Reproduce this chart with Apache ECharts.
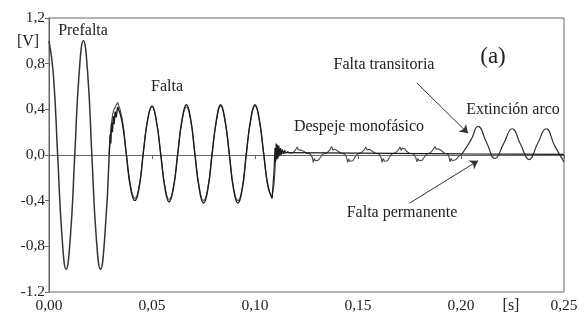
<!DOCTYPE html>
<html lang="es">
<head>
    <meta charset="UTF-8">
    <title>Tensión de fase - recierre monofásico</title>
    <style>
        *{
            margin: 0;
            padding: 0;
        }
        html, body{
            height: 100%;
            width: 100%;
            background: #fff;
        }
        #grafico{
            width: 586px;
            height: 319px;
        }
    </style>
</head>
<body>
<div id="grafico"></div>
<script src="https://cdn.jsdelivr.net/npm/echarts@6/dist/echarts.min.js"></script>
<script>
    // etiquetas de los ejes, tal como aparecen en la figura
    var xTickLabels = ['0,00', '0,05', '0,10', '0,15', '0,20', '0,25'];
    var yTickLabels = ['-1.2', '-0,8', '-0,4', '0,0', '0,4', '0,8', '1,2'];

    // [tiempo (s), tensión (V)]
    var prefalta = [
        [0, 1.0], [0.0021, 0.71], [0.0042, 0.0], [0.0063, -0.71], [0.0083, -1.0],
        [0.0104, -0.71], [0.0125, 0.0], [0.0146, 0.71], [0.0167, 1.0], [0.0188, 0.71],
        [0.0208, 0.0], [0.0229, -0.71], [0.025, -1.0], [0.0271, -0.71], [0.0292, 0.0]
    ];

    var permInicio = [
        [0.0292, 0.0], [0.0297, 0.18], [0.0300, 0.10], [0.0304, 0.28], [0.0308, 0.20],
        [0.0312, 0.34], [0.0316, 0.27], [0.0321, 0.38], [0.0326, 0.33], [0.0333, 0.42]
    ];
    var permFalta = [
        [0.0333, 0.42], [0.0354, 0.30], [0.0375, 0.01], [0.0396, -0.29], [0.0417, -0.40],
        [0.0438, -0.28], [0.0458, 0.02], [0.0479, 0.31], [0.0500, 0.43], [0.0521, 0.30],
        [0.0542, 0.01], [0.0563, -0.29], [0.0583, -0.41], [0.0604, -0.29], [0.0625, 0.01],
        [0.0646, 0.31], [0.0667, 0.44], [0.0688, 0.31], [0.0708, 0.01], [0.0729, -0.29],
        [0.0750, -0.42], [0.0771, -0.30], [0.0792, 0.01], [0.0813, 0.31], [0.0833, 0.44],
        [0.0854, 0.31], [0.0875, 0.01], [0.0896, -0.30], [0.0917, -0.42], [0.0938, -0.30],
        [0.0958, 0.01], [0.0979, 0.31], [0.1000, 0.44], [0.1021, 0.31], [0.1042, 0.01],
        [0.1063, -0.27], [0.1083, -0.38]
    ];
    var permDespeje = [
        [0.1083, -0.38], [0.1092, -0.15], [0.1097, 0.06], [0.1100, -0.06], [0.1103, 0.10],
        [0.1106, -0.04], [0.1109, 0.09], [0.1112, -0.03], [0.1116, 0.08], [0.1120, -0.01],
        [0.1124, 0.06], [0.1128, 0.00], [0.1133, 0.05], [0.1138, 0.01], [0.1144, 0.04],
        [0.1150, 0.02], [0.1160, 0.02], [0.2000, 0.01], [0.2500, 0.005]
    ];

    var transInicio = [
        [0.0292, 0.0], [0.0300, 0.22], [0.0312, 0.38], [0.0333, 0.46]
    ];
    var transFalta = [
        [0.0333, 0.46], [0.0354, 0.33], [0.0375, 0.02], [0.0396, -0.27], [0.0417, -0.38],
        [0.0438, -0.27], [0.0458, 0.03], [0.0479, 0.31], [0.0500, 0.42], [0.0521, 0.30],
        [0.0542, 0.02], [0.0563, -0.28], [0.0583, -0.39], [0.0604, -0.28], [0.0625, 0.02],
        [0.0646, 0.30], [0.0667, 0.42], [0.0688, 0.30], [0.0708, 0.02], [0.0729, -0.28],
        [0.0750, -0.40], [0.0771, -0.29], [0.0792, 0.02], [0.0813, 0.30], [0.0833, 0.43],
        [0.0854, 0.30], [0.0875, 0.02], [0.0896, -0.29], [0.0917, -0.40], [0.0938, -0.29],
        [0.0958, 0.02], [0.0979, 0.30], [0.1000, 0.43], [0.1021, 0.30], [0.1042, 0.02],
        [0.1063, -0.28], [0.1083, -0.37]
    ];
    var transDespeje = [
        [0.1083, -0.37], [0.1093, -0.25], [0.1100, -0.05], [0.1104, 0.06], [0.1108, 0.0],
        [0.1113, 0.05], [0.1120, 0.01], [0.1130, 0.04], [0.1145, 0.015], [0.1160, 0.03],
        [0.1170, 0.015], [0.1185, 0.02], [0.1195, 0.04], [0.1205, 0.07], [0.1210, 0.045],
        [0.1215, 0.06], [0.1220, 0.045], [0.1228, 0.05], [0.1238, 0.03], [0.1250, 0.015],
        [0.1268, 0.01], [0.1278, -0.02], [0.1283, -0.065], [0.1288, -0.03], [0.1293, -0.05],
        [0.1300, -0.035], [0.1308, -0.045], [0.1318, -0.02], [0.1330, 0.01],
        [0.1350, 0.02], [0.1362, 0.04], [0.1372, 0.075], [0.1377, 0.045], [0.1382, 0.06],
        [0.1388, 0.05], [0.1395, 0.055], [0.1405, 0.03], [0.1418, 0.015], [0.1435, 0.01],
        [0.1445, -0.025], [0.1450, -0.065], [0.1455, -0.035], [0.1460, -0.055], [0.1467, -0.04],
        [0.1475, -0.05], [0.1485, -0.02], [0.1497, 0.01],
        [0.1515, 0.02], [0.1528, 0.04], [0.1538, 0.07], [0.1543, 0.045], [0.1548, 0.06],
        [0.1555, 0.05], [0.1562, 0.055], [0.1572, 0.03], [0.1585, 0.015], [0.1602, 0.01],
        [0.1612, -0.02], [0.1617, -0.065], [0.1622, -0.03], [0.1628, -0.055], [0.1635, -0.04],
        [0.1643, -0.05], [0.1653, -0.02], [0.1665, 0.01],
        [0.1682, 0.02], [0.1694, 0.04], [0.1704, 0.07], [0.1709, 0.04], [0.1714, 0.06],
        [0.1720, 0.05], [0.1727, 0.055], [0.1737, 0.03], [0.1750, 0.015], [0.1770, 0.01],
        [0.1780, -0.02], [0.1786, -0.06], [0.1791, -0.03], [0.1797, -0.05], [0.1804, -0.035],
        [0.1812, -0.045], [0.1822, -0.02], [0.1834, 0.01],
        [0.1852, 0.02], [0.1864, 0.045], [0.1874, 0.075], [0.1879, 0.05], [0.1884, 0.065],
        [0.1890, 0.055], [0.1897, 0.06], [0.1907, 0.035], [0.1920, 0.015], [0.1937, 0.01],
        [0.1942, -0.02], [0.1947, -0.06], [0.1952, -0.03], [0.1958, -0.05], [0.1965, -0.035],
        [0.1975, -0.04], [0.1990, -0.01], [0.2005, 0.01]
    ];
    var transExtincion = [
        [0.2005, 0.01], [0.2048, 0.13], [0.2083, 0.25], [0.2124, 0.11], [0.2165, -0.03],
        [0.2207, 0.10], [0.2248, 0.23], [0.2290, 0.09], [0.2330, -0.04], [0.2372, 0.10],
        [0.2413, 0.23], [0.2455, 0.08], [0.2500, -0.06]
    ];

    // flechas de las anotaciones [inicio, punta]
    var flechaTransitoria = [[0.1786, 0.63], [0.2034, 0.19]];
    var flechaPermanente = [[0.1752, -0.42], [0.2083, -0.05]];

    var fuente = '"Liberation Serif", "DejaVu Serif", serif';
    var colorPerm = '#1c1c1c';
    var colorTrans = '#4a4a4a';

    function serie(datos, color, ancho, suave) {
        return {
            type: 'line',
            data: datos,
            showSymbol: false,
            smooth: suave,
            lineStyle: {color: color, width: ancho},
            silent: true
        };
    }

    var series = [
        serie(prefalta, '#333', 1.5, 0.5),
        serie(transInicio, colorTrans, 1.1, 0.3),
        serie(transFalta, colorTrans, 1.1, 0.5),
        serie(transDespeje, colorTrans, 1.1, false),
        serie(transExtincion, '#333', 1.2, 0.5),
        serie(permInicio, colorPerm, 1.4, false),
        serie(permFalta, colorPerm, 1.4, 0.5),
        serie(permDespeje, colorPerm, 1.2, false)
    ];
    series[4].markLine = {
        silent: true,
        symbol: ['none', 'arrow'],
        symbolSize: 8,
        label: {show: false},
        lineStyle: {color: '#333', width: 1, type: 'solid'},
        data: [
            [{coord: flechaTransitoria[0]}, {coord: flechaTransitoria[1]}],
            [{coord: flechaPermanente[0]}, {coord: flechaPermanente[1]}]
        ]
    };

    function texto(t, x, y, tam) {
        return {
            type: 'text', x: x, y: y, silent: true,
            style: {
                text: t, fill: '#222', font: (tam || 16) + 'px ' + fuente,
                align: 'center', verticalAlign: 'middle'
            }
        };
    }

    var grafico = echarts.init(document.getElementById('grafico'));
    var option = {
        animation: false,
        backgroundColor: '#fff',
        grid: {
            left: 49, right: 22, top: 18, bottom: 27,
            show: true, borderColor: '#666', borderWidth: 1
        },
        xAxis: {
            type: 'value',
            min: 0, max: 0.25, interval: 0.05,
            axisLine: {lineStyle: {color: '#666'}},
            axisTick: {show: true, length: 4, lineStyle: {color: '#666'}},
            splitLine: {show: false},
            axisLabel: {
                color: '#222', fontFamily: fuente, fontSize: 15.5, margin: 6,
                formatter: function (v) { return xTickLabels[Math.round(v / 0.05)]; }
            }
        },
        yAxis: {
            type: 'value',
            min: -1.2, max: 1.2, interval: 0.4,
            axisLine: {lineStyle: {color: '#666'}},
            axisTick: {show: true, length: 4, lineStyle: {color: '#666'}},
            splitLine: {show: false},
            axisLabel: {
                color: '#222', fontFamily: fuente, fontSize: 15.5, margin: 4,
                formatter: function (v) { return yTickLabels[Math.round((v + 1.2) / 0.4)]; }
            }
        },
        graphic: [
            texto('[V]', 28, 42),
            texto('[s]', 511, 306),
            texto('Prefalta', 83, 31),
            texto('Falta', 167, 87),
            texto('Despeje monofásico', 359, 127),
            texto('Falta transitoria', 384, 65),
            texto('(a)', 493, 57, 23),
            texto('Extinción arco', 513, 110),
            texto('Falta permanente', 402, 213)
        ],
        series: series
    };
    grafico.setOption(option);
</script>
</body>
</html>
